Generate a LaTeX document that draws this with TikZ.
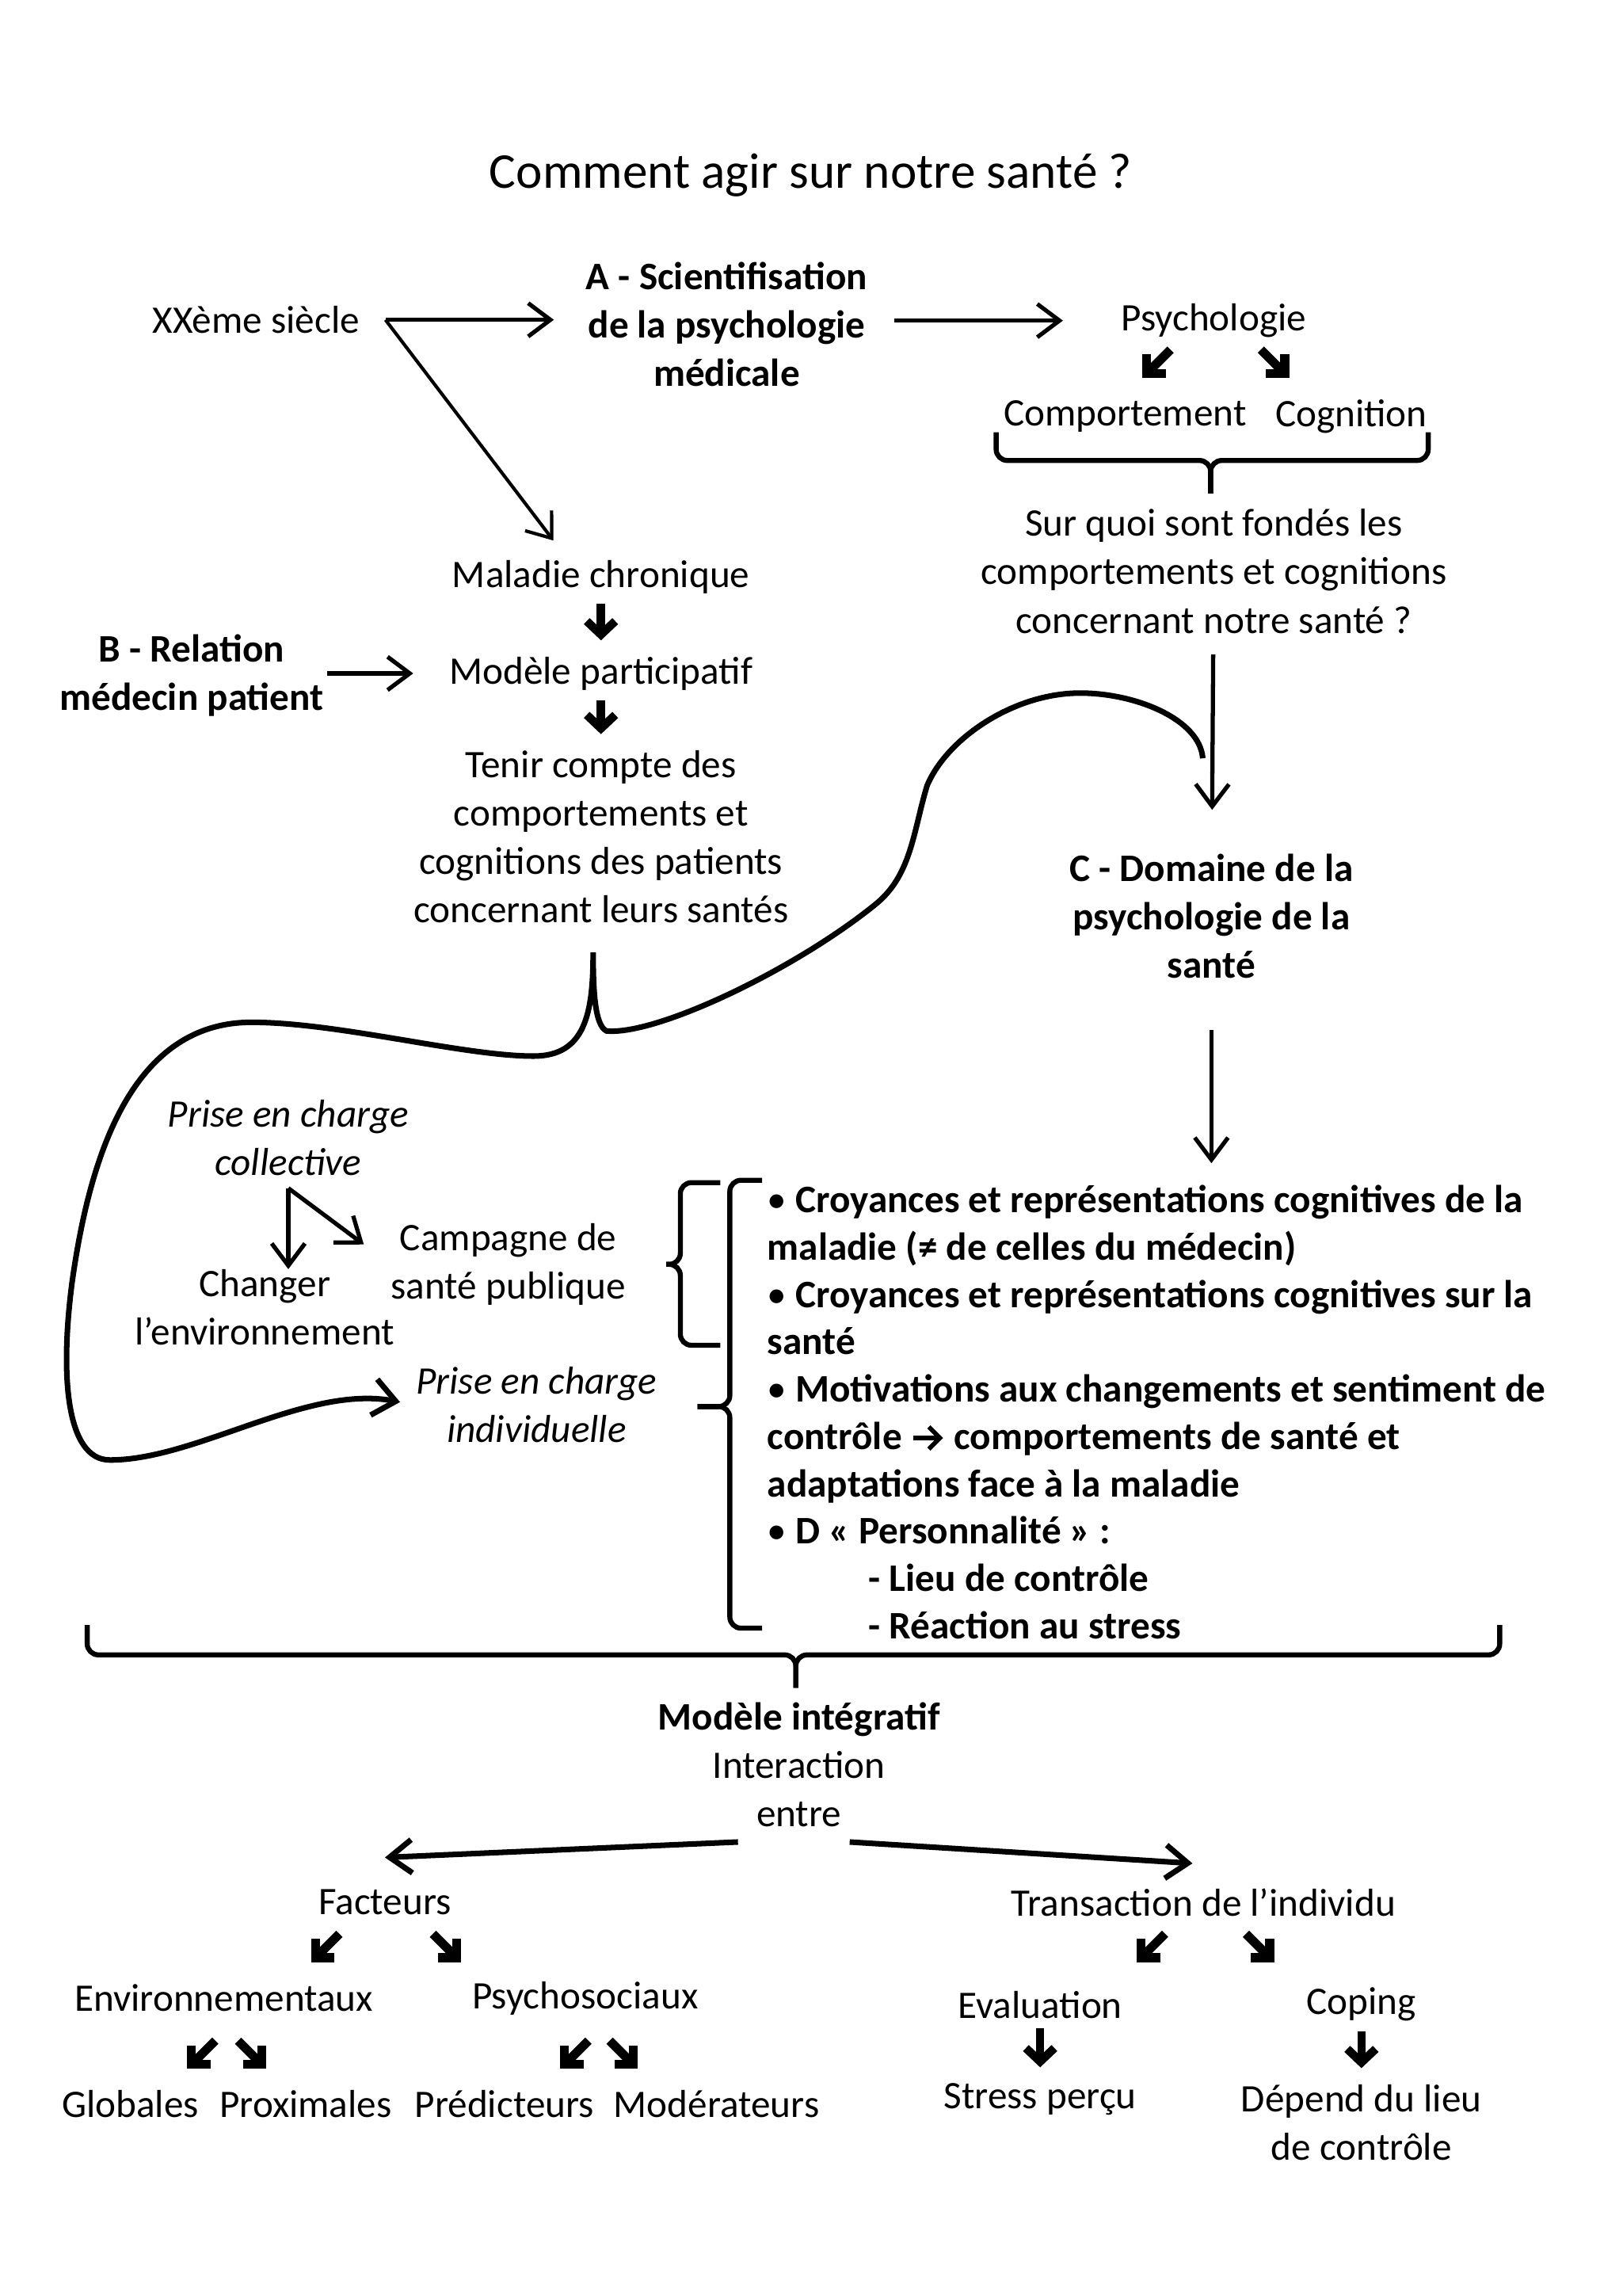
\documentclass[tikz,border=0pt]{standalone}
\usepackage{fontspec}
\setmainfont{Carlito}
\usetikzlibrary{arrows.meta}
\usetikzlibrary{positioning}
\newcommand{\bul}{{\mdseries •}}
\newcommand{\fleche}{\tikz[baseline=-0.6ex]\draw[line width=1.6pt, -{Straight Barb[sharp,length=1.4mm,width=2.8mm]}] (0cm,0cm) -- (0.38cm,0cm);}

\tikzset{
    txt/.style={font=\fontsize{14}{17.4}\selectfont, align=center, inner sep=0pt},
    bld/.style={txt, font=\fontsize{14}{17.4}\selectfont\bfseries},
    ita/.style={txt, font=\fontsize{14}{17.4}\selectfont\itshape},
    arr/.style={line width=1.5pt, -{Straight Barb[length=2.8mm,width=4.2mm]}},
    crv/.style={line width=2pt, -{Straight Barb[length=2.8mm,width=4.6mm]}},
    dwn/.style={line width=3pt, -{Straight Barb[sharp,length=1.7mm,width=3.6mm]}, shorten <=0.12cm, shorten >=0.2cm},
    dgl/.style={line width=3.2pt, -{Straight Barb[sharp,length=1.7mm,width=3.4mm]}},
    brc/.style={line width=1.8pt, rounded corners=4pt},
}

\begin{document}
\begin{tikzpicture}[x=0.009925cm, y=-0.009925cm]
    \useasboundingbox (0cm,0cm) rectangle (20.48cm,-28.98cm);

    \node[txt, font=\fontsize{18}{22}\selectfont] (title) at (1032,223) {Comment agir sur notre santé ?};

    % haut de page
    \node[txt] (xx) at (326,407) {XXème siècle};
    \node[bld] (sci) at (925,413) {A - Scientifisation\\de la psychologie\\médicale};
    \node[txt] (psy) at (1545,408) {Psychologie};
    \node[txt] (comp) at (1432,530) {Comportement};
    \node[txt] (cogn) at (1720,530) {Cognition};
    \node[txt] (sur) at (1545,727) {Sur quoi sont fondés les\\comportements et cognitions\\concernant notre santé ?};

    \node[txt] (mal) at (765,734) {Maladie chronique};
    \node[txt] (mod) at (765,857) {Modèle participatif};
    \node[bld] (rel) at (244,860) {B - Relation\\médecin patient};
    \node[txt] (ten) at (765,1065) {Tenir compte des\\comportements et\\cognitions des patients\\concernant leurs santés};
    \node[bld] (dom) at (1542,1166) {C - Domaine de la\\psychologie de la\\santé};

    \node[ita] (pcc) at (367,1448) {Prise en charge\\collective};
    \node[txt] (chg) at (337,1664) {Changer\\l’environnement};
    \node[txt] (cmp) at (647,1609) {Campagne de\\santé publique};
    \node[ita] (pci) at (683,1788) {Prise en charge\\individuelle};
    \node[bld, align=left, anchor=west, font=\fontsize{14}{17}\selectfont\bfseries] (lst) at (976,1797)
        {\bul{} Croyances et représentations cognitives de la\\
         maladie (≠ de celles du médecin)\\
         \bul{} Croyances et représentations cognitives sur la\\
         santé\\
         \bul{} Motivations aux changements et sentiment de\\
         contrôle \fleche{} comportements de santé et\\
         adaptations face à la maladie\\
         \bul{} D « Personnalité » :\\
         \hspace*{1.28cm}- Lieu de contrôle\\
         \hspace*{1.28cm}- Réaction au stress};

    % bas de page
    \node[txt] (intg) at (1017,2246) {\textbf{Modèle intégratif}\\Interaction\\entre};
    \node[txt] (fac) at (490,2421) {Facteurs};
    \node[txt] (tra) at (1532,2421) {Transaction de l’individu};
    \node[txt] (env) at (285,2543) {Environnementaux};
    \node[txt] (pss) at (745,2543) {Psychosociaux};
    \node[txt] (glo) at (166,2678) {Globales};
    \node[txt] (pro) at (389,2678) {Proximales};
    \node[txt] (pre) at (642,2678) {Prédicteurs};
    \node[txt] (mdr) at (912,2678) {Modérateurs};
    \node[txt] (eva) at (1324,2551) {Evaluation};
    \node[txt] (cop) at (1733,2551) {Coping};
    \node[txt] (str) at (1324,2672) {Stress perçu};
    \node[txt] (dep) at (1733,2701) {Dépend du lieu\\de contrôle};

    \coordinate (fork) at ([xshift=0.32cm]xx.east);
    \draw[arr, shorten >=0.4cm] (fork) -- (fork -| sci.west);
    \draw[arr, line width=1.2pt] (fork) -- ([xshift=-0.6cm,yshift=0.24cm]mal.north);
    \draw[arr, shorten <=0.33cm, shorten >=0.73cm] (sci.east |- psy) -- (psy);
    \draw[arr, shorten <=0.04cm, shorten >=0.45cm] (rel.east |- mod) -- (mod);
    \draw[arr, shorten <=0.26cm, shorten >=0.55cm] (sur) -- (dom);
    \draw[arr, shorten <=0.64cm, shorten >=0.27cm] (dom) -- (dom |- lst.north);

    \draw[dwn] (mal) -- (mod);
    \draw[dwn] (mod) -- (ten);
    \draw[dwn] (eva) -- (str);
    \draw[dwn] (cop) -- (dep);

    \draw[dgl] (psy) ++(-55,37) -- ++(-36,36);
    \draw[dgl] (psy) ++(60,37) -- ++(36,36);
    \draw[dgl] (fac) ++(-58,40) -- ++(-36,36);
    \draw[dgl] (fac) ++(61,40) -- ++(36,36);
    \draw[dgl] (env) ++(-11,54) -- ++(-36,36);
    \draw[dgl] (env) ++(18,54) -- ++(36,36);
    \draw[dgl] (pss) ++(4,54) -- ++(-36,36);
    \draw[dgl] (pss) ++(31,54) -- ++(36,36);
    \draw[dgl] (tra) ++(-49,40) -- ++(-36,36);
    \draw[dgl] (tra) ++(54,40) -- ++(36,36);

    \coordinate (split) at ([yshift=-0.15cm]pcc.south);
    \draw[arr] (split) -- (split |- chg.north);
    \draw[arr, shorten >=0.42cm] (split) -- (cmp.west);

    \draw[arr, line width=2pt] ([xshift=-0.77cm,yshift=-0.18cm]intg.south) -- ([yshift=0.4cm]fac.north);
    \draw[arr, line width=2pt] ([xshift=0.64cm,yshift=-0.18cm]intg.south) -- ([xshift=-0.14cm,yshift=0.31cm]tra.north);

    % accolades
    \draw[brc] (1268,550) |- (1541,586) -- (1541,628);
    \draw[brc] (1818,550) |- (1541,586) -- (1541,628);
    \draw[brc] (917,1505) -| (866,1609) -- (848,1609);
    \draw[brc] (917,1712) -| (866,1609) -- (848,1609);
    \draw[brc] (970,1502) -| (929,1790) -- (888,1790);
    \draw[brc] (970,2072) -| (929,1790) -- (888,1790);
    \draw[brc] (111,2068) |- (1013,2106) -- (1013,2148);
    \draw[brc] (1909,2068) |- (1013,2106) -- (1013,2148);

    \coordinate (hook) at (1531,965);
    \draw[crv, shorten >=0.2cm] (hook) .. controls (1527,915) and (1445,882) .. (1375,882)
        .. controls (1290,882) and (1205,940) .. (1180,1000)
        .. controls (1162,1060) and (1160,1115) .. (1113,1152)
        .. controls (1010,1235) and (835,1318) .. (772,1312)
        .. controls (757,1305) and (755,1260) .. (755,1212)
        .. controls (755,1290) and (745,1344) .. (679,1344)
        .. controls (590,1344) and (430,1301) .. (320,1301)
        .. controls (160,1301) and (112,1490) .. (92,1630)
        .. controls (76,1750) and (84,1858) .. (140,1858)
        .. controls (250,1858) and (390,1762) .. (pci.west);
\end{tikzpicture}
\end{document}
